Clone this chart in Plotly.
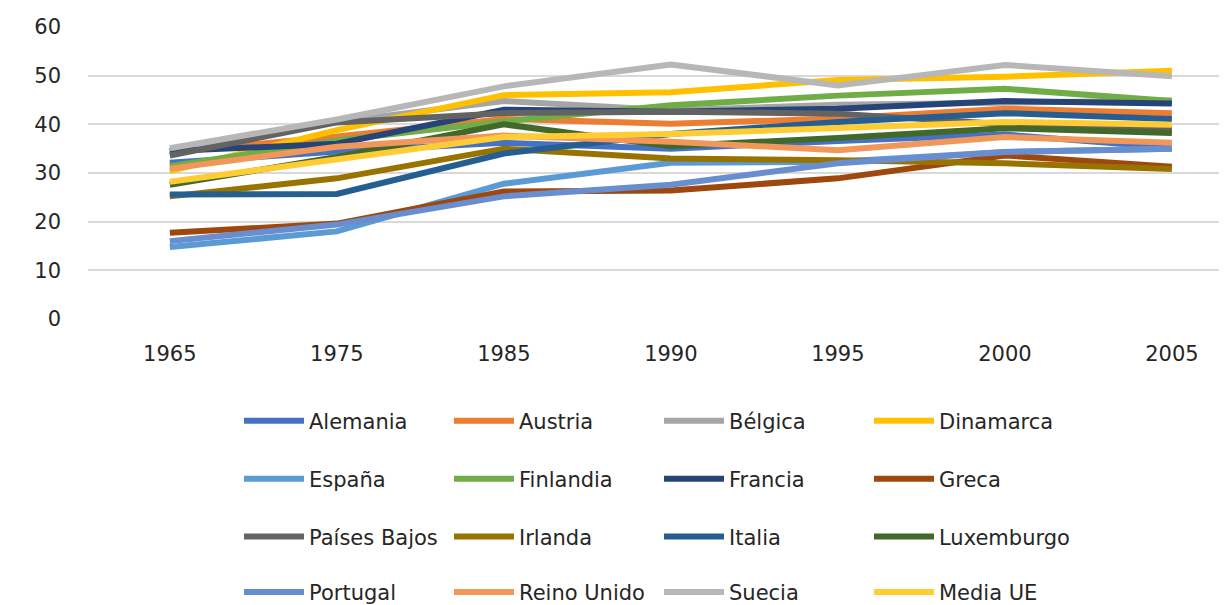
import plotly.graph_objects as go

years = ["1965", "1975", "1985", "1990", "1995", "2000", "2005"]

alemania = [32.1, 34.4, 36.2, 35.0, 36.6, 37.9, 35.2]
austria = [34.3, 37.5, 41.1, 40.1, 41.2, 43.2, 42.3]
belgica = [34.5, 40.5, 44.8, 42.9, 44.0, 44.6, 44.9]
dinamarca = [30.4, 38.8, 46.0, 46.6, 49.1, 49.8, 51.0]
espana = [14.8, 18.0, 27.8, 32.1, 32.3, 34.3, 35.0]
finlandia = [31.4, 36.7, 40.6, 43.9, 45.9, 47.3, 44.8]
francia = [34.5, 36.0, 43.0, 42.6, 43.2, 44.8, 44.3]
greca = [17.7, 19.6, 26.2, 26.4, 28.9, 33.6, 31.3]
paises_bajos = [33.6, 40.4, 42.3, 42.6, 42.2, 40.0, 38.9]
irlanda = [25.2, 28.9, 35.0, 33.0, 32.6, 32.0, 30.8]
italia = [25.6, 25.7, 34.0, 38.0, 40.5, 42.3, 41.1]
luxemburgo = [27.6, 33.3, 40.0, 35.5, 37.2, 39.2, 38.2]
portugal = [16.0, 19.4, 25.2, 27.6, 32.0, 34.3, 35.0]
reino_unido = [30.9, 35.4, 37.7, 36.4, 34.7, 37.4, 36.2]
suecia = [35.1, 41.0, 47.8, 52.3, 48.0, 52.2, 49.9]
media_ue = [28.2, 32.7, 37.4, 38.0, 39.4, 40.5, 39.9]

series = [
    ("Alemania", alemania, "#4472C4"),
    ("Austria", austria, "#ED7D31"),
    ("Bélgica", belgica, "#A5A5A5"),
    ("Dinamarca", dinamarca, "#FFC000"),
    ("España", espana, "#5B9BD5"),
    ("Finlandia", finlandia, "#70AD47"),
    ("Francia", francia, "#264478"),
    ("Greca", greca, "#9E480E"),
    ("Países Bajos", paises_bajos, "#636363"),
    ("Irlanda", irlanda, "#997300"),
    ("Italia", italia, "#255E91"),
    ("Luxemburgo", luxemburgo, "#43682B"),
    ("Portugal", portugal, "#698ED0"),
    ("Reino Unido", reino_unido, "#F1975A"),
    ("Suecia", suecia, "#B7B7B7"),
    ("Media UE", media_ue, "#FFCD33"),
]

FONT = "DejaVu Sans"
legend_names = ["legend", "legend2", "legend3", "legend4"]

# page body has an 8px margin, so the figure is 8px smaller each way
W, H = 1219, 597

fig = go.Figure()
for i, (name, vals, col) in enumerate(series):
    fig.add_trace(go.Scatter(
        x=years, y=vals, name=name, mode="lines",
        line=dict(color=col, width=6),
        legend=legend_names[i // 4],
    ))

# ── one horizontal legend per row, mimicking Excel's 4x4 grid ───────────────
# container refs so the legends don't push the plot margins around
row_y = [0.308, 0.211, 0.114, 0.021]
legends = {}
for name, y in zip(legend_names, row_y):
    legends[name] = dict(
        orientation="h", xref="container", yref="container",
        x=0.1895, xanchor="left", y=y, yanchor="middle",
        itemwidth=60,
        entrywidth=135, entrywidthmode="pixels",
        font=dict(family=FONT, size=21, color="#262626"),
        bgcolor="rgba(0,0,0,0)", itemclick=False, traceorder="normal",
    )

fig.update_layout(
    width=W, height=H,
    margin=dict(l=80, r=0, t=19, b=286, autoexpand=False),
    plot_bgcolor="white", paper_bgcolor="white",
    font=dict(family=FONT, size=21, color="#262626"),
    showlegend=True,
    **legends,
)

fig.update_xaxes(
    type="category", range=[-0.49, 6.33],
    showgrid=False, showline=False, zeroline=False,
    ticks="", ticklabelstandoff=20,
    tickfont=dict(family=FONT, size=21, color="#262626"),
)
fig.update_yaxes(
    range=[0, 60], dtick=10,
    showgrid=True, gridcolor="#D9D9D9", gridwidth=1.5,
    zeroline=False, showline=False, ticks="", ticklabelstandoff=26,
    tickfont=dict(family=FONT, size=21, color="#262626"),
)

fig.write_html("out.html")
